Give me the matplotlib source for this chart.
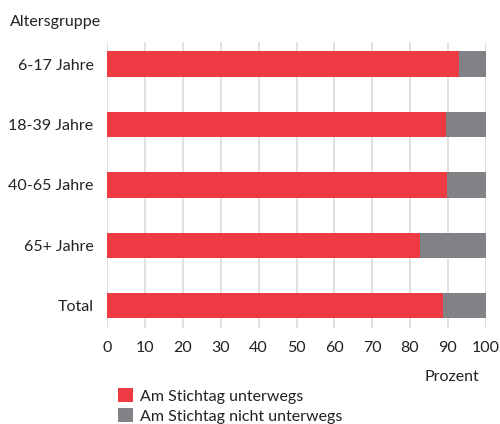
import matplotlib
matplotlib.use("Agg")
import matplotlib.pyplot as plt
from matplotlib.patches import Patch

plt.rcParams['font.family'] = ['Lato', 'DejaVu Sans']

categories = ["6-17 Jahre", "18-39 Jahre", "40-65 Jahre", "65+ Jahre", "Total"]
unterwegs = [93.0, 89.5, 89.9, 82.6, 88.8]
nicht_unterwegs = [100 - v for v in unterwegs]
xticks = list(range(0, 101, 10))

red = "#EE3A43"
grey = "#818285"
text_col = "#222222"

fig = plt.figure(figsize=(5.0, 4.24), dpi=100)
ax = fig.add_axes([0.2146, 0.2264, 0.7568, 0.675])

y = list(range(len(categories)))
ax.barh(y, unterwegs, height=0.42, color=red, zorder=3)
ax.barh(y, nicht_unterwegs, left=unterwegs, height=0.42, color=grey, zorder=3)

ax.set_xlim(0, 100)
ax.set_ylim(len(categories) - 1 + 0.37, -0.37)
ax.set_xticks(xticks)
ax.set_xticklabels([str(t) for t in xticks])
ax.set_yticks(y)
ax.set_yticklabels(categories)
ax.grid(axis='x', color="#dcdcdc", linewidth=1.2, zorder=0)
ax.tick_params(axis='both', length=0, labelsize=11.5, labelcolor=text_col)
ax.tick_params(axis='x', pad=9)
ax.tick_params(axis='y', pad=10)
for s in ax.spines.values():
    s.set_visible(False)

fig.text(10 / 500, 1 - 22 / 424, "Altersgruppe", fontsize=11.5, color=text_col,
         ha='left', va='center')
fig.text(452 / 500, 1 - 377 / 424, "Prozent", fontsize=11.5, color=text_col,
         ha='center', va='center')

handles = [Patch(facecolor=red, edgecolor='none'),
           Patch(facecolor=grey, edgecolor='none')]
fig.legend(handles, ["Am Stichtag unterwegs", "Am Stichtag nicht unterwegs"],
           loc='upper left', bbox_to_anchor=(107 / 500, 1 - 377 / 424),
           frameon=False, fontsize=11.5, handlelength=0.95, handleheight=0.95,
           handletextpad=0.4, labelspacing=0.3, borderpad=0.2,
           labelcolor=text_col)

fig.savefig("out.png", dpi=100)
